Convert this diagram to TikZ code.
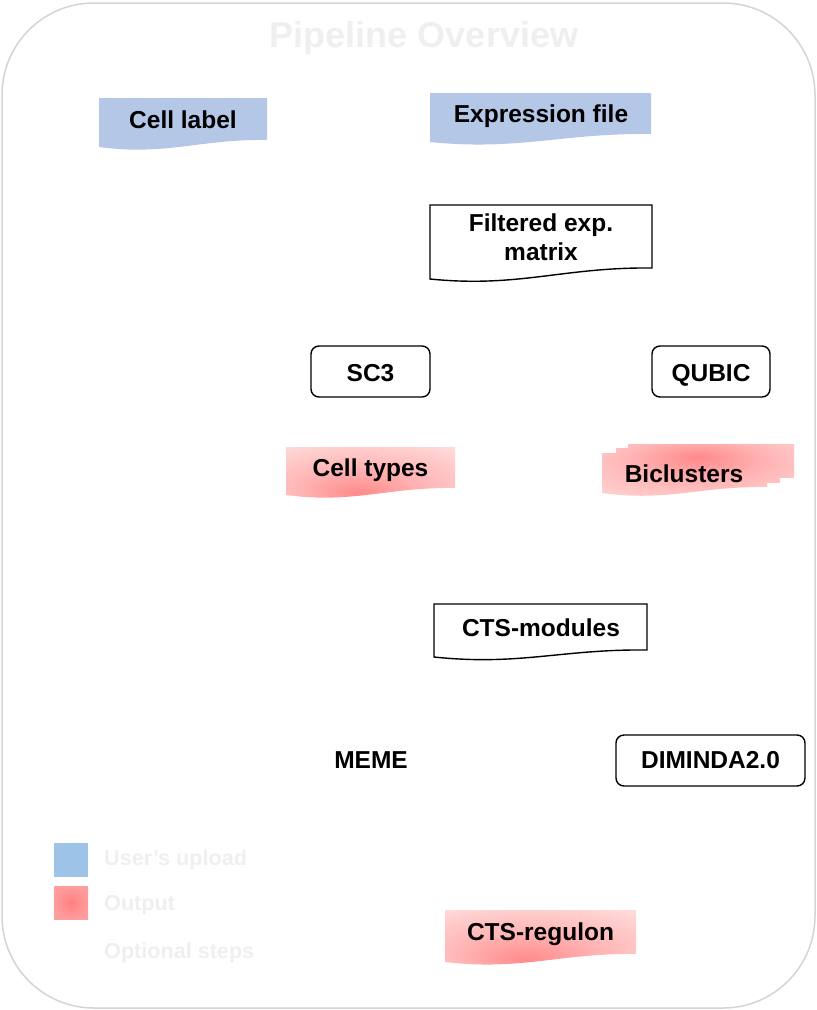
\documentclass[tikz,border=0pt]{standalone}
\usepackage{fontspec}
\setmainfont{Liberation Sans}
\definecolor{outerc}{HTML}{D4D4D4}
\definecolor{ghost}{HTML}{EFEFEF}
\definecolor{uploadc}{HTML}{B4C7E7}
\definecolor{legblue}{HTML}{9DC3E6}
\definecolor{pinkdark}{HTML}{FF8A8A}
\definecolor{pinkmid}{HTML}{FFB4B4}
\definecolor{pinklight}{HTML}{FFDADA}
\definecolor{legred}{HTML}{FF8080}
\definecolor{legredout}{HTML}{FF9C9C}
\pgfdeclareradialshading{glowlow}{\pgfpoint{-4bp}{-16bp}}{color(0bp)=(pinkdark); color(18bp)=(pinkmid); color(40bp)=(pinklight); color(70bp)=(pinklight)}
\pgfdeclareradialshading{glowtop}{\pgfpoint{0bp}{14bp}}{color(0bp)=(pinkdark); color(18bp)=(pinkmid); color(40bp)=(pinklight); color(70bp)=(pinklight)}
\pgfdeclareradialshading{legglow}{\pgfpoint{0bp}{0bp}}{color(0bp)=(legred); color(25bp)=(legredout); color(50bp)=(legredout)}
\newcommand\docseg[5]{(#1,#2) -- (#3,#2) -- (#3,#4) .. controls ({#3-0.4*(#3-#1)},{#4-1}) and ({#1+0.4*(#3-#1)},{#5+9}) .. (#1,#5) -- cycle}
\newcommand\docshape[6]{\path[#1] \docseg{#2}{#3}{#4}{#5}{#6};}
\begin{document}
\begin{tikzpicture}[x=1pt,y=-1pt,
  lbl/.style={font=\fontsize{24.5}{28}\selectfont\bfseries, anchor=base, inner sep=0pt, text=black},
  ghosttxt/.style={font=\fontsize{21.6}{26}\selectfont\bfseries, anchor=base west, inner sep=0pt, text=ghost},
  toolbox/.style={draw=black, line width=1.4pt, fill=white, rounded corners=8pt},
  docwhite/.style={draw=black, line width=1.4pt, fill=white}]
\useasboundingbox (0,0) rectangle (817,1010);
\draw[outerc, line width=1.5pt, rounded corners=92pt] (2,3) rectangle (815,1008);
\node[font=\fontsize{36}{40}\selectfont\bfseries, text=ghost, anchor=base, inner sep=0pt] (title) at (424,47) {Pipeline Overview};

% user uploads
\docshape{fill=uploadc}{99}{98}{267}{140}{147}
\node[lbl] (celllabel) at (183,128) {Cell label};
\docshape{fill=uploadc}{430}{93}{651}{134}{142}
\node[lbl] (expr) at (541,122) {Expression file};

% filtered matrix
\docshape{docwhite}{430}{205}{652}{268}{279}
\node[lbl] (filt1) at (541,231) {Filtered exp.};
\node[lbl] (filt2) at (541,260) {matrix};

% tools
\draw[toolbox] (311,346) rectangle (430,397);
\node[lbl] (sc3) at (370.5,381) {SC3};
\draw[toolbox] (652,346) rectangle (770,397);
\node[lbl] (qubic) at (711,381) {QUBIC};

% outputs
\docshape{shading=glowlow}{286}{447}{455}{488}{495}
\node[lbl] (celltypes) at (370.5,476) {Cell types};
\path[shading=glowtop] \docseg{628}{444}{794}{478}{480} \docseg{616}{448}{780}{483}{486} \docseg{602}{453}{767}{487}{493};
\node[lbl] (biclusters) at (684,482) {Biclusters};

% CTS modules
\docshape{docwhite}{434}{604}{647}{650}{657}
\node[lbl] (cts) at (541,636) {CTS-modules};

\node[lbl] (meme) at (371,768) {MEME};
\draw[toolbox] (616,735) rectangle (805,786);
\node[lbl] (diminda) at (710.5,768) {DIMINDA2.0};

\docshape{shading=glowlow}{445}{910}{636}{954}{962}
\node[lbl] (regulon) at (540.5,940) {CTS-regulon};

% legend
\fill[legblue] (54,843) rectangle (88,877);
\path[shading=legglow] (54,886) rectangle (88,919);
\node[ghosttxt] (leg1) at (104,865) {User’s upload};
\node[ghosttxt] (leg2) at (104,910) {Output};
\node[ghosttxt] (leg3) at (104,958) {Optional steps};
\end{tikzpicture}
\end{document}
